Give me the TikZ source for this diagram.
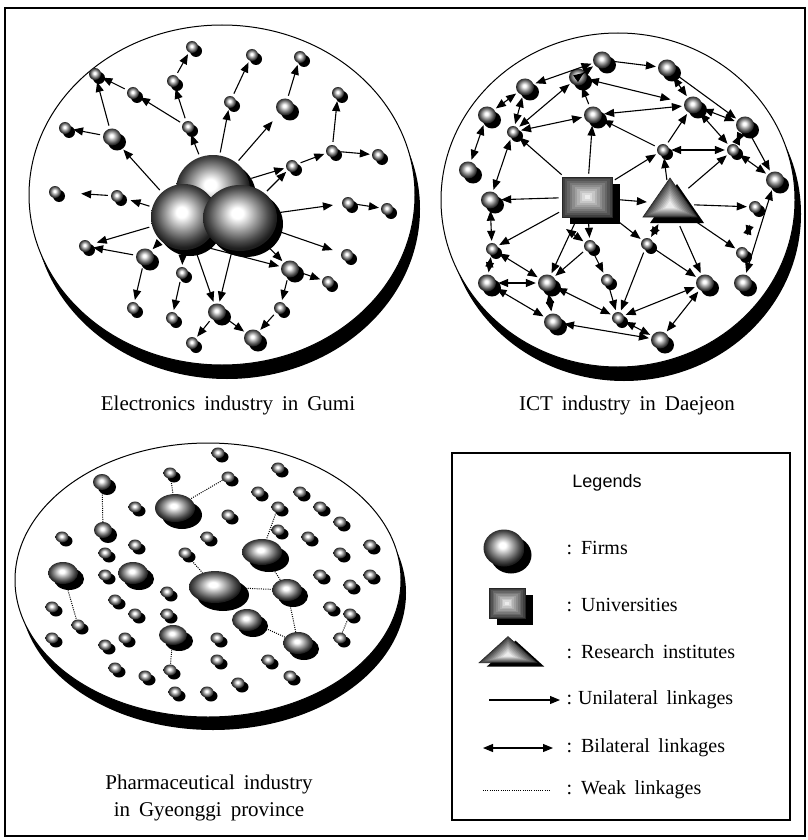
\documentclass[tikz,border=0pt]{standalone}
\usepackage{fontspec}
\setmainfont{Liberation Serif}[WordSpace=1.7]
\newfontfamily\legfont{Liberation Sans}
\usetikzlibrary{arrows.meta,shapes.geometric,shadows,calc}

\pgfdeclareradialshading{firmball}{\pgfpoint{-2bp}{4bp}}{color(0bp)=(white); color(4bp)=(white); color(13bp)=(black!40); color(20bp)=(black!70); color(25bp)=(black!88); color(50bp)=(black)}

\tikzset{
  firm/.style n args={3}{ellipse, inner sep=0pt, minimum width=#1, minimum height=#2, shading=firmball,
    drop shadow={shadow xshift=#3, shadow yshift=-#3, opacity=1, fill=black}},
  sfirm/.style={firm={12pt}{12pt}{4pt}},
  mfirm/.style={firm={18pt}{17pt}{5pt}},
  pfirm/.style={firm={13pt}{11pt}{4pt}},
  univ/.style 2 args={rectangle, draw=black!85, line width=0.6pt, inner sep=0pt, minimum width=#1, minimum height=#2,
    drop shadow={shadow xshift=8pt, shadow yshift=-7pt, opacity=1, fill=black},
    path picture={
      \foreach \k in {0,...,9}{
        \pgfmathsetmacro\sh{75-7.5*\k}
        \fill[black!\sh] ($(path picture bounding box.south west)!\k/20!(path picture bounding box.north east)$) rectangle ($(path picture bounding box.north east)!\k/20!(path picture bounding box.south west)$);
      }}},
  instri/.pic={
    \fill[black] (7,-20) -- (-20,19) -- (34,19) -- cycle;
    \foreach \k in {0,...,9}{
      \pgfmathsetmacro\f{1-\k/11}
      \pgfmathsetmacro\sh{75-7.5*\k}
      \fill[black!\sh] (0,{2-28*\f}) -- ({-27*\f},{2+11*\f}) -- ({27*\f},{2+11*\f}) -- cycle;
    }
    \draw[black!85, line width=0.6pt] (0,-26) -- (-27,13) -- (27,13) -- cycle;
  },
  uni/.style={line width=1.1pt, -{Triangle[length=10pt,width=8pt]}, shorten >=2pt, shorten <=3pt},
  bi/.style={line width=1.1pt, {Triangle[length=10pt,width=8pt]}-{Triangle[length=10pt,width=8pt]}, shorten >=2pt, shorten <=2pt},
  weak/.style={line width=1pt, dash pattern=on 1pt off 1.2pt},
  caption/.style={font=\fontsize{21}{27}\selectfont, align=center},
  lab/.style={anchor=west, font=\fontsize{20}{22}\selectfont}
}

\begin{document}
\begin{tikzpicture}[x=1pt, y=-1pt]
\useasboundingbox (0,0) rectangle (807,840);
\fill[white] (0,0) rectangle (807,840);
\draw[line width=1.4pt] (5,8) rectangle (805,836);

% Gumi
\fill (227,209) ellipse [x radius=193, y radius=170];
\filldraw[fill=white, line width=1pt] (222,195) ellipse [x radius=193, y radius=170];
\node[firm={74pt}{70pt}{6pt}] (gT) at (213,190) {};
\node[firm={66pt}{66pt}{6pt}] (gL) at (184,217) {};
\node[firm={74pt}{66pt}{6pt}] (gR) at (240,218) {};
\foreach \n/\x/\y/\s in {1/192/47/sfirm, 2/173/81/sfirm, 3/252/55/sfirm, 4/230/102/sfirm, 5/300/57/sfirm,
  6/285/107/mfirm, 7/338/93/sfirm, 8/332/151/sfirm, 9/378/155/sfirm, 10/292/166/sfirm, 11/95/74/sfirm,
  12/133/93/sfirm, 13/188/127/sfirm, 14/65/128/sfirm, 15/112/137/mfirm, 16/55/192/sfirm, 17/117/196/sfirm,
  18/348/203/sfirm, 19/387/209/sfirm, 20/347/255/sfirm, 21/85/246/sfirm, 22/145/257/mfirm, 23/182/273/sfirm,
  24/290/269/mfirm, 25/328/282/sfirm, 26/133/308/sfirm, 27/172/318/sfirm, 28/217/312/mfirm, 29/280/308/sfirm,
  30/253/338/mfirm, 31/192/343/sfirm}
  \node[\s] (g\n) at (\x,\y) {};
\draw[uni] (gT) -- (g13);
\draw[uni] (g13) -- (g2);
\draw[uni] (g2) -- (g1);
\draw[uni] (gT) -- (g4);
\draw[uni] (g4) -- (g3);
\draw[uni, shorten >=10pt] (gT) -- (g6);
\draw[uni] (g6) -- (g5);
\draw[uni] (gT) -- (g10);
\draw[uni] (gR) -- (g10);
\draw[uni] (g10) -- (g8);
\draw[uni] (g8) -- (g7);
\draw[uni] (g8) -- (g9);
\draw[uni, shorten >=9pt] (gR) -- (g18);
\draw[uni] (g18) -- (g19);
\draw[uni, shorten >=9pt] (gR) -- (g20);
\draw[uni] (gR) -- (g24);
\draw[uni] (gL.-60) -- (g24);
\draw[uni] (g24) -- (g25);
\draw[uni] (g24) -- (g29);
\draw[uni] (g29) -- (g30);
\draw[uni] (g28) -- (g30);
\draw[uni] (g28) -- (g31);
\draw[uni] (gL) -- (g28);
\draw[uni] (gR) -- (g28);
\draw[uni] (gL) -- (g23);
\draw[uni] (g23) -- (g27);
\draw[uni] (gL) -- (g22);
\draw[uni] (g22) -- (g21);
\draw[uni] (g22) -- (g26);
\draw[uni, shorten >=6pt] (gL) -- (g21);
\draw[uni, shorten >=8pt] (gL) -- (g17);
\draw[uni, shorten >=20pt] (g17) -- (g16);
\draw[uni, shorten >=8pt] (gL) -- (g15);
\draw[uni] (g15) -- (g14);
\draw[uni] (g15) -- (g11);
\draw[uni] (g13) -- (g12);
\draw[uni] (g12) -- (g11);
\node[caption] at (228,405) {Electronics industry in Gumi};

% Daejeon
\fill (624,214) ellipse [x radius=177, y radius=167];
\filldraw[fill=white, line width=1pt] (618,200) ellipse [x radius=177, y radius=167];
\node[univ={50pt}{40pt}] (U) at (587,197) {};
\pic at (670,204) {instri};
\node[circle, minimum size=42pt, inner sep=0pt] (R) at (670,204) {};
\foreach \n/\x/\y/\s in {a/602/60/mfirm, b/667/68/mfirm, c/578/77/mfirm, d/525/87/mfirm, e/693/105/mfirm,
  f/593/115/mfirm, g/487/115/mfirm, h/745/125/mfirm, i/513/132/sfirm, j/663/150/sfirm, k/733/150/sfirm,
  l/468/170/mfirm, m/775/180/mfirm, n/490/200/mfirm, o/755/207/sfirm, p/492/249/sfirm, q/590/246/sfirm,
  r/647/244/sfirm, s/742/253/sfirm, t/487/283/mfirm, u/547/283/mfirm, v/607/280/sfirm, w/705/283/mfirm,
  x/743/283/mfirm, y/553/322/mfirm, z/618/318/sfirm, aa/660/340/mfirm}
  \node[\s] (d\n) at (\x,\y) {};
\coordinate (uq) at (566,229);
\draw[bi] (dc) -- (da);
\draw[bi] (dd) -- (da);
\draw[uni] (da) -- (db);
\draw[bi, shorten >=14pt] (dc) -- (de);
\draw[bi] (db) -- (de);
\draw[uni] (db) -- (dh);
\draw[uni] (dh) -- (dm);
\draw[bi] (df) -- (de);
\draw[uni] (df) -- (dc);
\draw[uni] (U) -- (df);
\draw[uni] (U) -- (di);
\draw[bi] (di) -- (df);
\draw[bi] (di) -- (dc);
\draw[bi] (dd) -- (dg);
\draw[bi] (dd) -- (di);
\draw[bi] (dg) -- (dl);
\draw[bi] (di) -- (dn);
\draw[uni] (U) -- (dn);
\draw[uni] (U) -- (R);
\draw[uni] (U) -- (dj);
\draw[bi] (dj) -- (dk);
\draw[uni] (dj) -- (df);
\draw[uni] (dj) -- (de);
\draw[uni] (R) -- (dj);
\draw[uni] (R) -- (dk);
\draw[bi] (dk) -- (dh);
\draw[bi] (de) -- (dh);
\draw[bi] (de) -- (dk);
\draw[bi] (dk) -- (dm);
\draw[bi] (dm) -- (dx);
\draw[uni] (R) -- (do);
\draw[bi, shorten <=12pt, shorten >=12pt] (do) -- (ds);
\draw[uni] (R) -- (ds);
\draw[uni] (R) -- (dw);
\draw[bi] (R) -- (dr);
\draw[uni] (dr) -- (dw);
\draw[uni] (dr) -- (dz);
\draw[uni] (U) -- (dr);
\draw[uni] (U) -- (dq);
\draw[bi, shorten <=0pt] (uq) -- (dq);
\draw[uni] (dq) -- (dv);
\draw[uni] (dq) -- (du);
\draw[uni] (U) -- (du);
\draw[uni] (U) -- (dp);
\draw[bi] (dn) -- (dp);
\draw[bi] (dp) -- (dt);
\draw[bi] (dp) -- (du);
\draw[bi] (dt) -- (du);
\draw[bi] (dt) -- (dy);
\draw[bi] (du) -- (dy);
\draw[bi] (du) -- (dz);
\draw[uni] (dv) -- (dz);
\draw[bi] (dz) -- (dw);
\draw[bi] (dz) -- (daa);
\draw[bi] (dw) -- (daa);
\draw[bi] (dy) -- (daa);
\node[caption] at (627,405) {ICT industry in Daejeon};

% Gyeonggi
\fill (213,593) ellipse [x radius=193, y radius=137];
\filldraw[fill=white, line width=1pt] (208,580) ellipse [x radius=193, y radius=137];
\foreach \n/\x/\y in {1/218/453, 2/170/473, 3/228/477, 4/278/468, 5/258/492, 6/300/492, 7/135/507, 8/278/507,
  9/228/515, 10/320/507, 11/340/522, 12/278/530, 13/62/537, 14/207/537, 15/308/537, 16/135/545, 17/370/545,
  18/105/553, 19/185/553, 20/340/553, 21/105/575, 22/320/575, 23/370/575, 24/350/585, 25/167/592, 26/115/600,
  27/52/607, 28/330/607, 29/135/614, 30/167/614, 31/350/614, 32/78/625, 33/52/638, 34/125/638, 35/105/645,
  36/217/638, 37/340/638, 38/217/660, 39/268/660, 40/115/668, 41/170/670, 42/145/676, 43/290/676,
  44/238/683, 45/175/692, 46/207/692}
  \node[pfirm] (p\n) at (\x,\y) {};
\node[firm={40pt}{28pt}{7pt}] (pB1) at (175,508) {};
\node[firm={18pt}{16pt}{5pt}] (pB2) at (102,482) {};
\node[firm={18pt}{16pt}{5pt}] (pB3) at (103,530) {};
\node[firm={30pt}{22pt}{6pt}] (pB4) at (63,573) {};
\node[firm={30pt}{22pt}{6pt}] (pB5) at (133,573) {};
\node[firm={52pt}{32pt}{8pt}] (pB6) at (215,587) {};
\node[firm={40pt}{26pt}{7pt}] (pB7) at (262,552) {};
\node[firm={30pt}{22pt}{6pt}] (pB8) at (287,590) {};
\node[firm={30pt}{22pt}{6pt}] (pB9) at (247,620) {};
\node[firm={30pt}{22pt}{6pt}] (pB10) at (298,643) {};
\node[firm={28pt}{20pt}{6pt}] (pB11) at (173,635) {};
\draw[weak] (pB2) -- (pB3);
\draw[weak] (p2) -- (pB1);
\draw[weak] (p3) -- (pB1);
\draw[weak] (p8) -- (pB7);
\draw[weak] (p19) -- (pB6);
\draw[weak] (pB6) -- (pB8);
\draw[weak] (pB7) -- (pB8);
\draw[weak] (pB8) -- (pB10);
\draw[weak] (pB9) -- (pB10);
\draw[weak] (pB4) -- (p32);
\draw[weak] (pB11) -- (p41);
\draw[weak] (p31) -- (p37);
\node[caption] at (209,798) {Pharmaceutical industry\\in Gyeonggi province};

% Legends
\draw[line width=1.2pt] (452,453) rectangle (790,820);
\node[font=\legfont\fontsize{18}{21}\selectfont] at (607,483) {Legends};
\node[firm={41pt}{37pt}{7pt}] (lfirm) at (504,548) {};
\node[lab] at (563,548) {:\hspace{9pt}Firms};
\node[univ={36pt}{30pt}] (luniv) at (507,603) {};
\node[lab] at (563,605) {:\hspace{9pt}Universities};
\pic[xscale=1.07, yscale=0.67] at (508,654) {instri};
\node[lab] at (563,652) {:\hspace{9pt}Research institutes};
\coordinate (ua) at (489,700);
\coordinate (ub) at (560,700);
\draw[uni, shorten <=0pt, shorten >=0pt] (ua) -- (ub);
\node[lab] at (563,700) {:\hspace{6pt}Unilateral linkages};
\coordinate (ba) at (483,748);
\coordinate (bb) at (553,748);
\draw[bi, shorten <=0pt, shorten >=0pt] (ba) -- (bb);
\node[lab] at (563,748) {:\hspace{9pt}Bilateral linkages};
\coordinate (wa) at (483,790);
\coordinate (wb) at (550,790);
\draw[weak, line width=0.8pt] (wa) -- (wb);
\node[lab] at (563,790) {:\hspace{9pt}Weak linkages};
\end{tikzpicture}
\end{document}
